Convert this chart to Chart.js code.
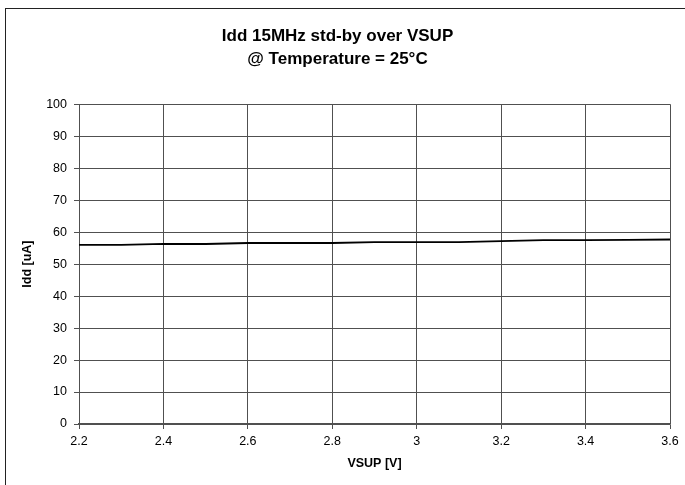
<!DOCTYPE html>
<html>
<head>
<meta charset="utf-8">
<title>Idd 15MHz std-by over VSUP</title>
<script src="https://cdn.jsdelivr.net/npm/chart.js@4/dist/chart.umd.min.js"></script>
<style>
  body { margin: 0; background: #fff; }
  canvas { display: block; }
</style>
</head>
<body>
<canvas id="graficoIdd" width="685" height="485"></canvas>
<script>
// data
var vsup = [2.2, 2.3, 2.4, 2.5, 2.6, 2.7, 2.8, 2.9, 3.0, 3.1, 3.2, 3.3, 3.4, 3.5, 3.6];
var idd = [56.0, 56.0, 56.3, 56.3, 56.6, 56.6, 56.6, 56.9, 56.9, 56.9, 57.2, 57.5, 57.5, 57.6, 57.7];
var xTicks = ["2.2", "2.4", "2.6", "2.8", "3", "3.2", "3.4", "3.6"];
var yTicks = [0, 10, 20, 30, 40, 50, 60, 70, 80, 90, 100];

window.onload = function () {
    var ctx = document.getElementById("graficoIdd");
    var puntos = [];
    for (var i = 0; i < vsup.length; i++) {
        puntos.push({x: vsup[i], y: idd[i]});
    }

    // outer frame of the picture
    var marco = {
        id: 'marco',
        afterDraw: function (chart) {
            var c = chart.ctx;
            c.save();
            c.strokeStyle = '#222';
            c.lineWidth = 1;
            c.strokeRect(5.5, 8.5, 720, 520);
            c.restore();
        }
    };

    var myLineChart = new Chart(ctx, {
        type: 'line',
        data: {
            datasets: [{
                label: 'Idd',
                data: puntos,
                borderColor: '#000',
                borderWidth: 1.8,
                pointRadius: 0,
                tension: 0,
                fill: false
            }]
        },
        options: {
            responsive: false,
            animation: false,
            layout: {padding: {top: 0, left: 5, right: 15, bottom: 0}},
            plugins: {
                legend: {display: false},
                tooltip: {enabled: false},
                title: {
                    display: true,
                    text: ['Idd 15MHz std-by over VSUP', '@ Temperature = 25°C'],
                    color: '#000',
                    font: {family: 'Liberation Sans', size: 17, weight: 'bold', lineHeight: 1.36},
                    padding: {top: 25, bottom: 33}
                }
            },
            scales: {
                x: {
                    type: 'linear',
                    min: 2.2,
                    max: 3.6,
                    afterFit: function (s) { s.height = 61; },
                    ticks: {
                        stepSize: 0.2,
                        color: '#000',
                        padding: 5,
                        maxRotation: 0,
                        font: {family: 'Liberation Sans', size: 12.5},
                        callback: function (v) {
                            var k = Math.round((v - 2.2) / 0.2);
                            return xTicks[k];
                        }
                    },
                    grid: {color: '#505050', lineWidth: 1, tickLength: 5},
                    border: {color: '#505050', width: 1.5},
                    title: {
                        display: true,
                        text: 'VSUP [V]',
                        color: '#000',
                        font: {family: 'Liberation Sans', size: 12.5, weight: 'bold'},
                        padding: {top: 0, bottom: 14}
                    }
                },
                y: {
                    min: yTicks[0],
                    max: yTicks[yTicks.length - 1],
                    afterFit: function (s) { s.width = 74; },
                    ticks: {
                        stepSize: 10,
                        color: '#000',
                        padding: 7,
                        font: {family: 'Liberation Sans', size: 12.5}
                    },
                    grid: {color: '#505050', lineWidth: 1, tickLength: 5},
                    border: {color: '#505050', width: 1},
                    title: {
                        display: true,
                        text: 'Idd [uA]',
                        color: '#000',
                        font: {family: 'Liberation Sans', size: 12.5, weight: 'bold'},
                        padding: {top: 15, bottom: 0}
                    }
                }
            }
        },
        plugins: [marco]
    });
};
</script>
</body>
</html>
